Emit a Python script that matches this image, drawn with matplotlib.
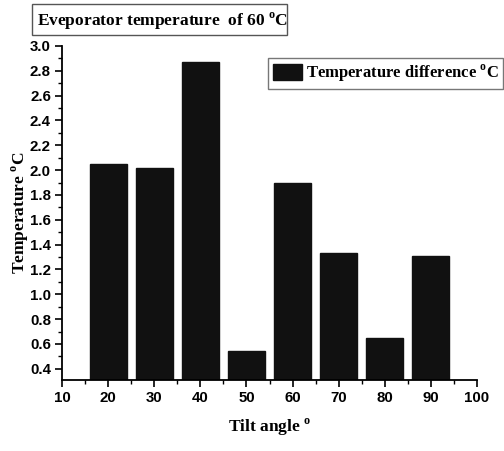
import matplotlib
matplotlib.use("Agg")
import matplotlib.pyplot as plt
from matplotlib.patches import Rectangle
from matplotlib.ticker import MultipleLocator

plt.rcParams["mathtext.fontset"] = "custom"
plt.rcParams["mathtext.bf"] = "Liberation Serif:bold"
plt.rcParams["mathtext.rm"] = "Liberation Serif:bold"

tilt_angles = [20, 30, 40, 50, 60, 70, 80, 90]
temp_diff = [2.05, 2.02, 2.87, 0.54, 1.90, 1.33, 0.65, 1.31]
x_ticks = [10, 20, 30, 40, 50, 60, 70, 80, 90, 100]
y_ticks = [0.4, 0.6, 0.8, 1.0, 1.2, 1.4, 1.6, 1.8, 2.0, 2.2, 2.4, 2.6, 2.8, 3.0]

W, H = 504, 451
fig = plt.figure(figsize=(W / 100, H / 100), dpi=100)
ax = fig.add_axes([62 / W, 1 - 380 / H, (477 - 62) / W, (380 - 46) / H])

serif = "Liberation Serif"
sans = "Liberation Sans"

ax.bar(tilt_angles, temp_diff, width=8, color="#111111", edgecolor="#111111",
       label=r"Temperature difference $^{\mathbf{o}}$C")

ax.set_xlim(10, 100)
ax.set_xticks(x_ticks)
ax.set_xticklabels([str(v) for v in x_ticks])
ax.set_yticks(y_ticks)
ax.set_yticklabels([f"{v:.1f}" for v in y_ticks])
ax.xaxis.set_minor_locator(MultipleLocator(5))
ax.yaxis.set_minor_locator(MultipleLocator(0.1))
ax.set_ylim(0.31, 3.0)

for s in ["top", "right"]:
    ax.spines[s].set_visible(False)
for s in ["left", "bottom"]:
    ax.spines[s].set_linewidth(1.3)

ax.tick_params(which="major", direction="out", length=5, width=1.2, pad=3)
ax.tick_params(which="minor", direction="out", length=3, width=1.0)
for lab in ax.get_xticklabels() + ax.get_yticklabels():
    lab.set_fontfamily(sans)
    lab.set_fontweight("bold")
    lab.set_fontsize(10.8)

ax.set_xlabel(r"Tilt angle $^{\mathbf{o}}$", fontfamily=serif, fontweight="bold", fontsize=12.5)
ax.set_ylabel(r"Temperature $^{\mathbf{o}}$C", fontfamily=serif, fontweight="bold", fontsize=12.5)
ax.xaxis.set_label_coords(0.5, (380 - 417) / 334)
ax.yaxis.set_label_coords((31 - 62) / 415, 0.5)

# boxed heading in the upper-left corner
fig.add_artist(Rectangle((32 / W, 1 - 35 / H), (287 - 32) / W, 31 / H,
                         transform=fig.transFigure, facecolor="white",
                         edgecolor="#555555", linewidth=1))
fig.text(37 / W, 1 - 21 / H, r"Eveporator temperature  of 60 $^{\mathbf{o}}$C",
         fontfamily=serif, fontweight="bold", fontsize=12.5, va="center", ha="left")

leg = ax.legend(loc="upper left", bbox_to_anchor=((268 - 62) / 415, (380 - 58) / 334),
                borderaxespad=0, frameon=True, fancybox=False,
                prop={"family": serif, "weight": "bold", "size": 12},
                handlelength=1.75, handleheight=1.1, handletextpad=0.2, borderpad=0.3)
leg.get_frame().set_edgecolor("#555555")
leg.get_frame().set_linewidth(1)

fig.savefig("out.png", dpi=100)
